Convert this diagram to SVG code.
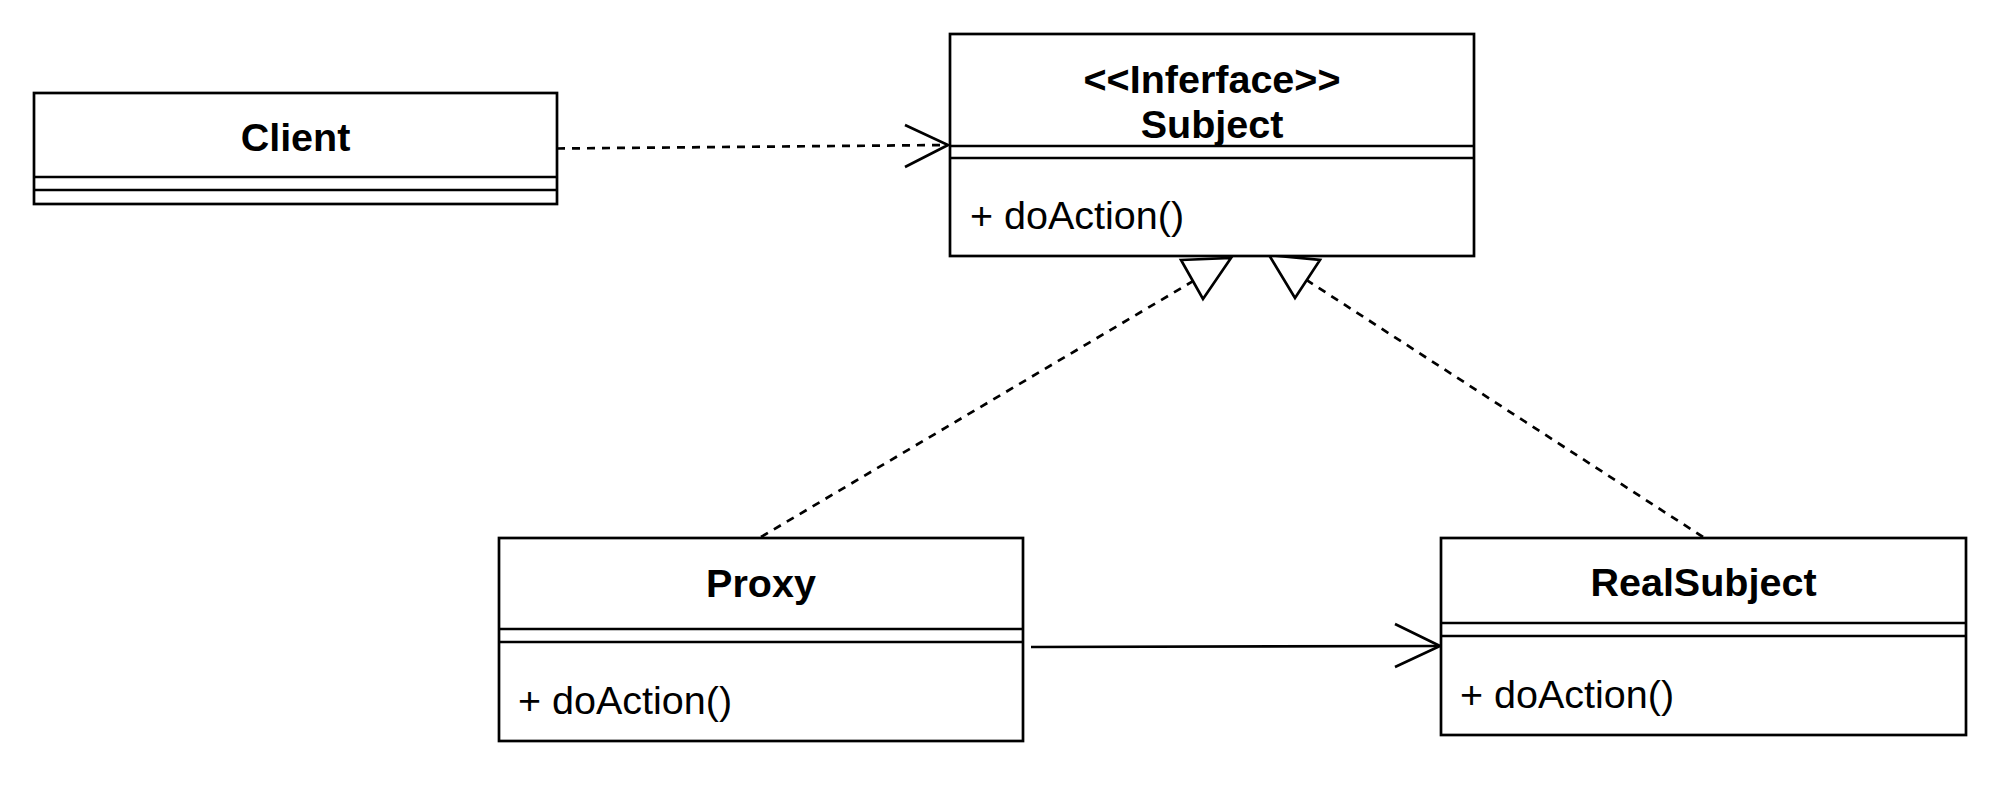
<svg xmlns="http://www.w3.org/2000/svg" width="2000" height="786" viewBox="0 0 2000 786">
<style>
.box{fill:#fff;stroke:#000;stroke-width:2.7}
.div{stroke:#000;stroke-width:2.7;fill:none}
.title{font-family:"Liberation Sans",Arial,sans-serif;font-size:39.5px;font-weight:bold;text-anchor:middle;fill:#000}
.member{font-family:"Liberation Sans",Arial,sans-serif;font-size:39.5px;fill:#000}
.dash{stroke:#000;stroke-width:2.7;fill:none;stroke-dasharray:8 7}
.solid{stroke:#000;stroke-width:2.7;fill:none}
.head{stroke:#000;stroke-width:2.7;fill:none;stroke-linejoin:miter}
.tri{stroke:#000;stroke-width:2.7;fill:#fff;stroke-linejoin:miter}
</style>
<rect width="2000" height="786" fill="#fff"/>
<g id="connectors">
  <line class="dash" x1="557" y1="148.5" x2="946" y2="145"/>
  <polyline class="head" points="905,125 948,145 905,167"/>
  <line class="solid" x1="1031" y1="647" x2="1438" y2="646"/>
  <polyline class="head" points="1395,624 1440,646 1395,667"/>
  <line class="dash" x1="761" y1="537" x2="1200" y2="277"/>
  <polygon class="tri" points="1181,260 1231,258 1203,299"/>
  <line class="dash" x1="1703" y1="537" x2="1305" y2="279"/>
  <polygon class="tri" points="1269,255 1320,260 1295,298"/>
</g>
<g id="client">
  <rect class="box" x="34" y="93" width="523" height="111"/>
  <line class="div" x1="34" y1="177" x2="557" y2="177"/>
  <line class="div" x1="34" y1="190" x2="557" y2="190"/>
  <text class="title" x="295.5" y="151">Client</text>
</g>
<g id="subject">
  <rect class="box" x="950" y="34" width="524" height="222"/>
  <line class="div" x1="950" y1="146" x2="1474" y2="146"/>
  <line class="div" x1="950" y1="158" x2="1474" y2="158"/>
  <text class="title" x="1212" y="93">&lt;&lt;Inferface&gt;&gt;</text>
  <text class="title" x="1212" y="138">Subject</text>
  <text class="member" x="970" y="229">+ doAction()</text>
</g>
<g id="proxy">
  <rect class="box" x="499" y="538" width="524" height="203"/>
  <line class="div" x1="499" y1="629" x2="1023" y2="629"/>
  <line class="div" x1="499" y1="642" x2="1023" y2="642"/>
  <text class="title" x="761" y="597">Proxy</text>
  <text class="member" x="518" y="714">+ doAction()</text>
</g>
<g id="realsubject">
  <rect class="box" x="1441" y="538" width="525" height="197"/>
  <line class="div" x1="1441" y1="623" x2="1966" y2="623"/>
  <line class="div" x1="1441" y1="636" x2="1966" y2="636"/>
  <text class="title" x="1703.5" y="596">RealSubject</text>
  <text class="member" x="1460" y="708">+ doAction()</text>
</g>
</svg>
